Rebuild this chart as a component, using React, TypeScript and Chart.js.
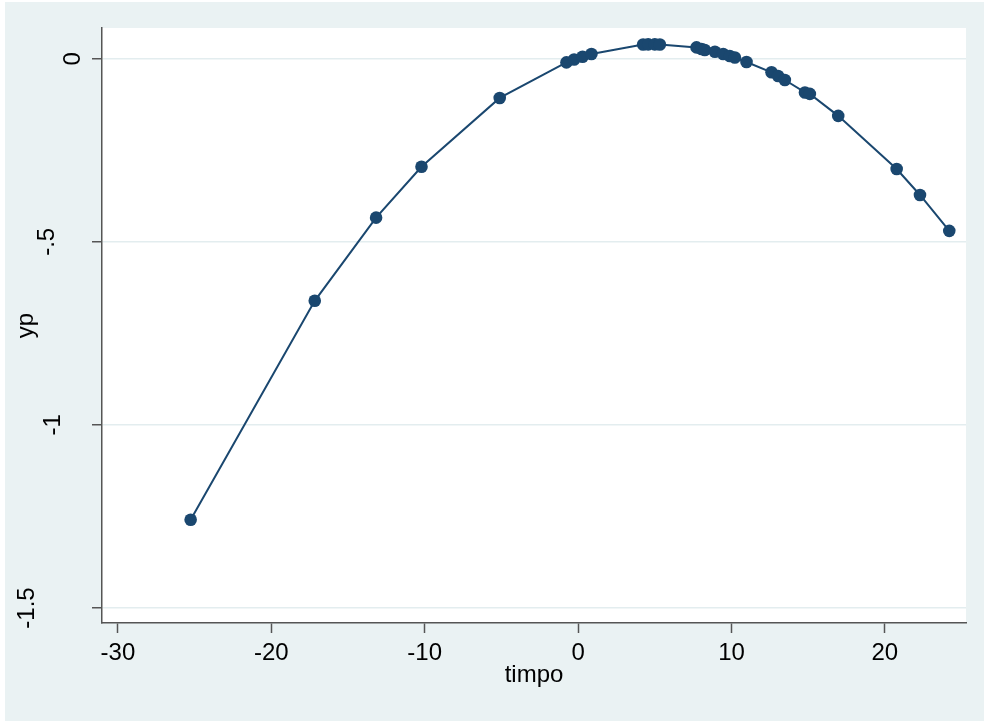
import { useEffect, useRef } from 'react';
import { Chart, registerables } from 'chart.js';

Chart.register(...registerables);

// ---- data ----
const timpo = [
  -25.26, -17.17, -13.17, -10.21, -5.11, -0.76, -0.26, 0.29, 0.87, 4.24, 4.57, 5.0, 5.33,
  7.72, 8.05, 8.26, 8.92, 9.46, 9.89, 10.22, 10.98, 12.61, 13.04, 13.48, 14.79, 15.11,
  16.96, 20.77, 22.29, 24.2,
];
const yp = [
  -1.259, -0.661, -0.434, -0.295, -0.107, -0.01, -0.002, 0.0055, 0.0128, 0.0388, 0.0392,
  0.0393, 0.0391, 0.031, 0.0265, 0.024, 0.019, 0.0128, 0.0074, 0.0033, -0.009, -0.037,
  -0.047, -0.058, -0.092, -0.096, -0.156, -0.301, -0.372, -0.47,
];
const xTickValues = [-30, -20, -10, 0, 10, 20];
const xTickLabels = ['-30', '-20', '-10', '0', '10', '20'];
const yTickValues = [-1.5, -1, -0.5, 0];
const yTickLabels = ['-1.5', '-1', '-.5', '0'];
const xRange = [-31.04, 25.29];
const yRange = [-1.541, 0.084];

// styling
const FONT = "'Liberation Sans', Arial, Helvetica, sans-serif";
const NAVY = '#1A476F';
const BG = '#EAF2F3';
const AXIS = '#555555';
// leftward shift (px) of each rotated y label, as in the reference
const yLabelShift = [46, 20.5, 26, 0];

export default function App() {
  const ref = useRef<HTMLCanvasElement>(null);

  useEffect(() => {
    const bgPlugin = {
      id: 'bgPlugin',
      beforeDraw(chart: any) {
        const { ctx, chartArea: a, width, height } = chart;
        ctx.save();
        ctx.fillStyle = BG;
        ctx.fillRect(0, 0, width, height);
        ctx.fillStyle = '#ffffff';
        ctx.fillRect(a.left, a.top, a.right - a.left, a.bottom - a.top);
        ctx.restore();
      },
    };

    const chart = new Chart(ref.current as HTMLCanvasElement, {
      type: 'scatter',
      data: {
        datasets: [
          {
            data: timpo.map((x, i) => ({ x, y: yp[i] })),
            showLine: true,
            borderColor: NAVY,
            borderWidth: 2,
            pointRadius: 6.3,
            pointHoverRadius: 6.3,
            pointBackgroundColor: NAVY,
            pointBorderWidth: 0,
          },
        ],
      },
      options: {
        animation: false,
        responsive: false,
        devicePixelRatio: 1,
        events: [],
        layout: { padding: { top: 26, right: 18, left: 0, bottom: 0 } },
        plugins: { legend: { display: false }, tooltip: { enabled: false } },
        scales: {
          x: {
            type: 'linear',
            min: xRange[0],
            max: xRange[1],
            afterBuildTicks: (s: any) => {
              s.ticks = xTickValues.map((v) => ({ value: v }));
            },
            afterFit: (s: any) => {
              s.height = 98;
              s.paddingLeft = 0;
              s.paddingRight = 0;
            },
            ticks: {
              callback: (_v: any, i: number) => xTickLabels[i],
              autoSkip: false,
              maxRotation: 0,
              minRotation: 0,
              padding: 6,
              color: '#000',
              font: { family: FONT, size: 24 },
            },
            grid: {
              drawOnChartArea: false,
              tickLength: 10,
              tickColor: AXIS,
              tickWidth: 1.5,
            },
            border: { display: true, color: AXIS, width: 1.5 },
            title: {
              display: true,
              text: 'timpo',
              color: '#000',
              font: { family: FONT, size: 24 },
              padding: { top: 0, bottom: 31 },
            },
          },
          y: {
            type: 'linear',
            min: yRange[0],
            max: yRange[1],
            afterBuildTicks: (s: any) => {
              s.ticks = yTickValues.map((v) => ({ value: v }));
            },
            afterFit: (s: any) => {
              s.width = 97;
              s.paddingTop = 0;
              s.paddingBottom = 0;
            },
            ticks: {
              callback: (_v: any, i: number) =>
                yLabelShift[i] ? [yTickLabels[i], ''] : yTickLabels[i],
              autoSkip: false,
              minRotation: 90,
              maxRotation: 90,
              crossAlign: 'center',
              padding: -2.5,
              color: '#000',
              font: (ctx: any) => ({
                family: FONT,
                size: 24,
                lineHeight: yLabelShift[ctx.index] ? `${2 * yLabelShift[ctx.index]}px` : 1.2,
              }),
            },
            grid: {
              color: '#E3EDEF',
              lineWidth: 1.5,
              tickLength: 10,
              tickColor: AXIS,
              tickWidth: 1.5,
            },
            border: { display: true, color: AXIS, width: 1.5 },
            title: {
              display: true,
              text: 'yp',
              color: '#000',
              font: { family: FONT, size: 24 },
              padding: { top: 7, bottom: 0 },
            },
          },
        },
      },
      plugins: [bgPlugin],
    } as any);

    return () => chart.destroy();
  }, []);

  return (
    <div style={{ position: 'absolute', left: 5, top: 2 }}>
      <canvas ref={ref} width={979} height={719} style={{ display: 'block', width: 979, height: 719 }} />
    </div>
  );
}
